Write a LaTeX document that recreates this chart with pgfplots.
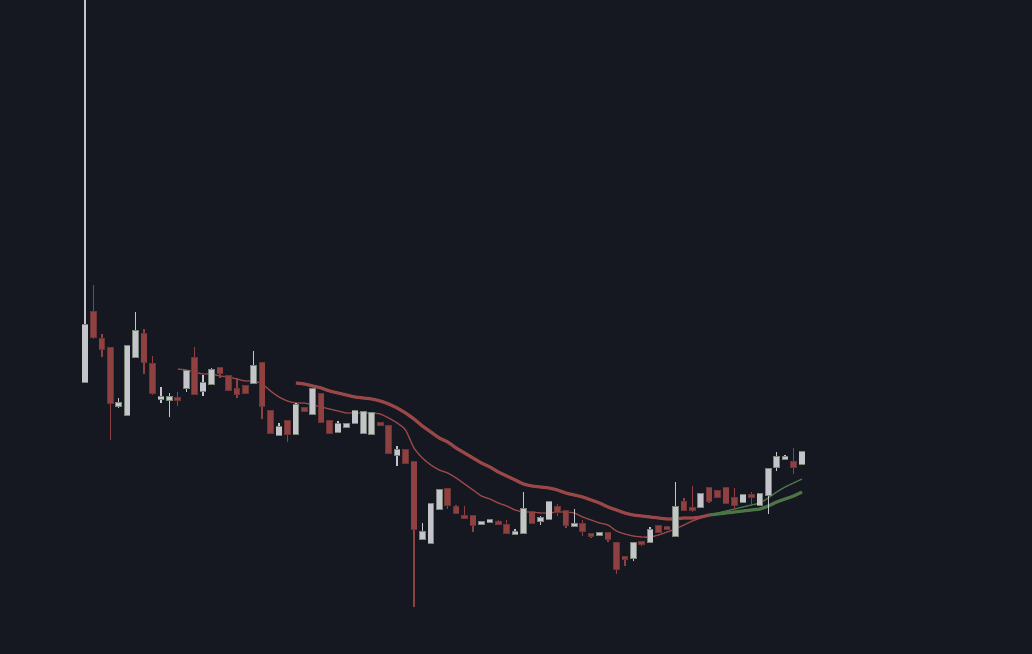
\documentclass[border=0pt]{standalone}
\usepackage{pgfplots}
\usepackage{pgfplotstable}
\pgfplotsset{compat=1.18}

\definecolor{bg}{HTML}{151821}
\definecolor{upfill}{HTML}{C3C5CA}
\definecolor{upedge}{HTML}{7B8577}
\definecolor{dnfill}{HTML}{8F4141}
\definecolor{dnedge}{HTML}{6E3434}
\definecolor{mared}{HTML}{9A4747}
\definecolor{magreen}{HTML}{4C7447}

% i open high low close
\pgfplotstableread{
i o h l c
1 272 654 272 329
5 248 256 246 251
6 239 308 239 308
7 297 342 297 323
10 255 267 251 257
11 254 261 237 257
13 266 284 262 283
15 263 279 258 271
16 270 286 270 284
21 271 303 271 288
24 219 231 219 227
26 220 251 220 249
28 240 265 240 265
31 222 233 222 230
32 227 230 227 230
33 231 243 231 243
34 221 242 221 242
35 220 241 220 241
38 199 208 188 204
41 115 131 115 122
42 111 150 111 150
43 145 164 145 164
48 130 132 130 132
49 132 134 132 134
52 120 125 120 122
53 121 162 121 145
55 133 138 129 136
56 135 152 135 152
59 128 145 128 130
62 119 121 118 121
66 96 111 93 111
68 112 127 112 124
71 118 172 118 147
74 147 161 147 160
79 152 160 152 159
81 149 160 149 160
82 159 185 140 185
83 187 202 183 197
84 195 199 194 197
86 190 202 190 202
}\upcandles

\pgfplotstableread{
i o h l c
2 342 369 315 317
3 315 320 297 305
4 306 306 214 251
8 320 325 280 292
9 290 298 259 261
12 256 262 248 254
14 296 307 260 260
17 286 286 276 281
18 278 278 264 264
19 265 276 256 260
20 268 268 261 261
22 291 291 235 248
23 243 243 221 221
25 233 233 212 220
27 246 246 243 243
29 260 260 232 232
30 233 233 221 221
36 231 231 228 229
37 228 228 201 201
39 204 204 191 191
40 192 192 47 125
44 165 165 145 149
45 147 149 141 141
46 138 148 135 136
47 138 138 122 129
50 132 134 129 130
51 129 134 121 121
54 142 142 131 131
57 147 150 138 142
58 143 143 126 129
60 130 134 118 123
61 120 120 116 118
63 121 121 112 115
64 111 111 80 85
65 97 97 88 95
67 112 112 108 110
69 128 128 122 122
70 127 127 125 125
72 152 156 144 144
73 146 168 142 144
75 166 166 151 153
76 163 163 157 157
77 166 166 151 151
78 156 166 145 149
80 159 162 148 157
85 192 206 180 187
}\downcandles

\begin{document}
\begin{tikzpicture}
\begin{axis}[
  scale only axis,
  width=1032bp, height=654bp,
  xmin=-9.077, xmax=113.27,
  ymin=0, ymax=654,
  xtick=\empty, ytick=\empty,
  axis line style={draw=none},
  axis background/.style={fill=bg},
  clip=true,
]
  % short moving average
  \addplot[mared, line width=1.3bp, mark=none, smooth, tension=0.4] coordinates {
    (12,285) (13,284) (14,282) (15,280) (16,280) (17,278) (18,277) (19,275)
    (20,273) (21,273) (22,270) (23,263) (24,257) (25,253) (26,251) (27,251)
    (28,249) (29,247) (30,245) (31,243) (32,241) (33,241) (34,241) (35,241)
    (36,240) (37,236) (38,231) (39,224) (40,206) (41,196) (42,189) (43,184)
    (44,181) (45,176) (46,170) (47,164) (48,158) (49,155) (50,151) (51,148)
    (52,144) (53,142) (54,142) (55,141) (56,141) (57,142) (58,142) (59,141)
    (60,137) (61,134) (62,131) (63,129) (64,123) (65,120) (66,118) (67,117)
    (68,117) (69,119) (70,122) (71,125) (72,129) (73,133) (74,136) (75,139)
  };
  \addplot[magreen, line width=1.3bp, mark=none, smooth, tension=0.4] coordinates {
    (75,139) (76,141) (77,143) (78,145) (79,147) (80,149) (81,151) (82,156)
    (83,162) (84,167) (85,171) (86,175)
  };
  % long moving average
  \addplot[mared, line width=3.2bp, mark=none, smooth, tension=0.4] coordinates {
    (26,271) (27,270) (28,268) (29,266) (30,263) (31,261) (32,259) (33,257)
    (34,256) (35,255) (36,253) (37,250) (38,246) (39,241) (40,235) (41,228)
    (42,222) (43,216) (44,212) (45,206) (46,201) (47,196) (48,191) (49,187)
    (50,182) (51,178) (52,174) (53,170) (54,168) (55,167) (56,166) (57,164)
    (58,161) (59,159) (60,157) (61,154) (62,151) (63,147) (64,144) (65,141)
    (66,139) (67,138) (68,137) (69,136) (70,135) (71,135) (72,136) (73,136)
    (74,137) (75,139)
  };
  \addplot[magreen, line width=3.2bp, mark=none, smooth, tension=0.4] coordinates {
    (75,139) (76,140) (77,141) (78,142) (79,143) (80,144) (81,145) (82,148)
    (83,152) (84,155) (85,158) (86,162)
  };

  % wicks
  \addplot[draw=none, mark=none, error bars/.cd, y dir=plus, y explicit,
    error mark=none, error bar style={draw=upfill, line width=1.4bp}]
    table[x=i, y=l, y error plus expr=\thisrow{h}-\thisrow{l}] {\upcandles};
  \addplot[draw=none, mark=none, error bars/.cd, y dir=plus, y explicit,
    error mark=none, error bar style={draw=dnfill, line width=1.4bp}]
    table[x=i, y=l, y error plus expr=\thisrow{h}-\thisrow{l}] {\downcandles};

  % bodies: outline then fill
  \addplot[draw=none, mark=none, error bars/.cd, y dir=plus, y explicit,
    error mark=none, error bar style={draw=upedge, line width=6.6bp}]
    table[x=i, y expr=\thisrow{o}-0.7, y error plus expr=\thisrow{c}-\thisrow{o}+1.4] {\upcandles};
  \addplot[draw=none, mark=none, error bars/.cd, y dir=plus, y explicit,
    error mark=none, error bar style={draw=upfill, line width=5.2bp}]
    table[x=i, y=o, y error plus expr=\thisrow{c}-\thisrow{o}] {\upcandles};
  \addplot[draw=none, mark=none, error bars/.cd, y dir=plus, y explicit,
    error mark=none, error bar style={draw=dnedge, line width=6.6bp}]
    table[x=i, y expr=\thisrow{c}-0.7, y error plus expr=\thisrow{o}-\thisrow{c}+1.4] {\downcandles};
  \addplot[draw=none, mark=none, error bars/.cd, y dir=plus, y explicit,
    error mark=none, error bar style={draw=dnfill, line width=5.2bp}]
    table[x=i, y=c, y error plus expr=\thisrow{o}-\thisrow{c}] {\downcandles};
\end{axis}
\end{tikzpicture}
\end{document}
